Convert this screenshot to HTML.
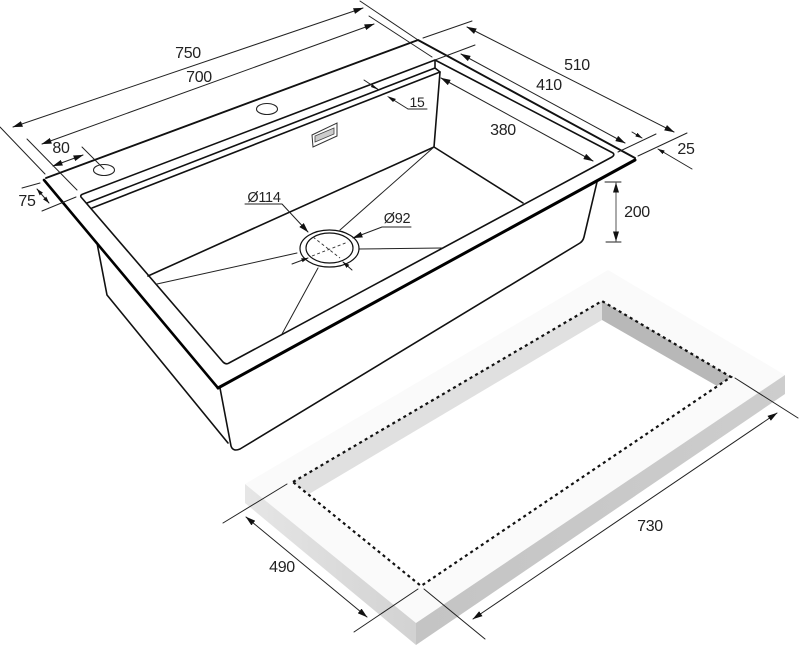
<!DOCTYPE html>
<html>
<head>
<meta charset="utf-8">
<style>
html,body{margin:0;padding:0;background:#fff;width:799px;height:646px;overflow:hidden}
svg{display:block;filter:blur(.35px)}
text{font-family:"Liberation Sans",sans-serif;font-size:16px;fill:#222;text-anchor:middle;letter-spacing:-.3px}
.t{fill:none;stroke:#222;stroke-width:1;stroke-linecap:round;stroke-linejoin:round}
.m{fill:none;stroke:#111;stroke-width:1.6;stroke-linecap:round;stroke-linejoin:round}
.b{fill:none;stroke:#000;stroke-width:2.6;stroke-linecap:round;stroke-linejoin:round}
.a{marker-start:url(#ar);marker-end:url(#ar)}
.e{marker-end:url(#ar)}
.s{marker-start:url(#sm);marker-end:url(#sm)}
.se{marker-end:url(#sm)}
.d{fill:none;stroke:#111;stroke-width:2.2;stroke-dasharray:3 3.4}
</style>
</head>
<body>
<svg width="799" height="646" viewBox="0 0 799 646" xmlns="http://www.w3.org/2000/svg">
<defs>
<marker id="ar" viewBox="0 0 10 6" refX="9.5" refY="3" markerWidth="10" markerHeight="6" markerUnits="userSpaceOnUse" orient="auto-start-reverse">
<path d="M0 0L10 3L0 6Z" fill="#111"/>
</marker>
<marker id="sm" viewBox="0 0 10 6" refX="9.5" refY="3" markerWidth="7" markerHeight="4.4" markerUnits="userSpaceOnUse" orient="auto-start-reverse">
<path d="M0 0L10 3L0 6Z" fill="#111"/>
</marker>
<linearGradient id="gl" x1="245" y1="0" x2="416" y2="0" gradientUnits="userSpaceOnUse">
<stop offset="0" stop-color="#e6e6e6"/><stop offset="1" stop-color="#d2d2d2"/>
</linearGradient>
<linearGradient id="gr" x1="416" y1="0" x2="785" y2="0" gradientUnits="userSpaceOnUse">
<stop offset="0" stop-color="#c4c4c4"/><stop offset="1" stop-color="#cdcdcd"/>
</linearGradient>
</defs>

<!-- counter slab -->
<polygon points="245,484 608,270 785,375 416,623" fill="#fafafa"/>
<polygon points="245,484 416,623 416,645 245,503" fill="url(#gl)"/>
<polygon points="416,623 785,375 785,394 416,645" fill="url(#gr)"/>
<polygon points="293,482 602,301 731,377 421,586" fill="#fff"/>
<polygon points="293,482 602,301 602,320 309,494" fill="#e0e0e0"/>
<polygon points="602,301 731,377 717,386 602,320" fill="#b8b8b8"/>
<polyline class="d" points="293,482 602,301 731,377 421,586 293,482"/>

<!-- sink body -->
<polyline class="m" points="97,243 107,295 228,443"/>
<path class="m" d="M220,388L231,446Q233,452 240,449L580,243Q583,241 584,237L597,182"/>

<!-- rim -->
<path class="m" style="stroke-width:1.9" d="M46,178L418,40L635,158"/>
<path class="b" d="M44,180L218,388"/>
<path class="b" style="stroke-width:3" d="M218,388L635,160"/>
<!-- opening -->
<path class="m" d="M83,194L435,60L613,153Q615,155 612,157L229,363Q226,365 223,362L81,197Q80,195 83,194Z"/>
<path class="m" d="M87,203L435,68L435,60M435,68L440,72"/>
<path class="m" d="M92,208L440,72L434,147"/>
<path class="m" d="M148,276L434,147L523,203"/>

<!-- radial drain lines -->
<path class="t" d="M434,147L340,230M157,284L297,253M358,249L442,248M318,268L282,334"/>

<!-- drain -->
<ellipse cx="329.5" cy="248.5" rx="29.5" ry="18.5" fill="#fff" stroke="#111" stroke-width="1.2"/>
<ellipse cx="329.5" cy="248" rx="23.5" ry="15" fill="#fff" stroke="#111" stroke-width="1.2"/>
<path d="M313,237L340,258M312,256L348,242" fill="none" stroke="#333" stroke-width=".9" stroke-dasharray="3 2.5"/>
<path class="t se" d="M292,264L308,258"/>
<path class="t se" d="M352,270L343,262"/>

<!-- holes and plate -->
<ellipse cx="104" cy="170" rx="10.5" ry="5.5" fill="#fff" stroke="#222" stroke-width="1.1"/>
<ellipse cx="267" cy="109" rx="10.5" ry="5.5" fill="#fff" stroke="#222" stroke-width="1.1"/>
<polygon points="312,135 337,123 337,136 313,147" fill="#fff" stroke="#333" stroke-width="1"/>
<polygon points="315,136 334,128 334,134 315,142" fill="#ccc" stroke="#444" stroke-width=".8"/>

<!-- dims left/top -->
<path class="t a" d="M13,127L363,8"/>
<path class="t a" d="M42,144L374,24"/>
<path class="t" d="M0,127L45,174M27,139L77,190M360,1L418,40M369,16L432,57"/>
<path class="t a" d="M53,166L83,155"/>
<path class="t" d="M82,147L104,169"/>
<path class="t" d="M22,188L40,183M42,211L76,197"/>
<path class="t s" d="M37,189L49,203"/>

<!-- dims right -->
<path class="t" d="M423,38L472,21M435,60L475,45M638,156L687,133M618,152L656,134"/>
<path class="t a" d="M467,27L674,132"/>
<path class="t a" d="M461,54L625,143"/>
<path class="t a" d="M441,78L593,161"/>
<path class="t se" d="M632,132L642,138"/>
<path class="t se" d="M692,169L658,149"/>
<path class="t" d="M364,80L379,90"/>
<path d="M372,84L379,90L371,87Z" fill="#111"/>
<path class="t" d="M408,109L392,99"/>
<path d="M387,96L396,99L393,102Z" fill="#111"/>
<path class="t" d="M408,109H427"/>
<path class="t" d="M605,182H621M606,242H621"/>
<path class="t a" style="stroke:#555" d="M616,183V241"/>

<!-- drain labels -->
<path class="t e" d="M245,204H282L308,232"/>
<path class="t e" d="M411,227H382L353,238"/>

<!-- counter dims -->
<path class="t" d="M735,378L798,418M424,589L485,639M287,484L223,523M418,589L354,632"/>
<path class="t a" d="M473,619L777,413"/>
<path class="t a" d="M246,517L367,617"/>

<text x="188" y="58">750</text>
<text x="199" y="82">700</text>
<text x="61" y="153">80</text>
<text x="27" y="206">75</text>
<text x="577" y="70">510</text>
<text x="549" y="90">410</text>
<text x="503" y="135">380</text>
<text x="417" y="107" style="font-size:14px">15</text>
<text x="686" y="154">25</text>
<text x="637" y="217">200</text>
<text x="264" y="202" style="font-size:14.5px">Ø114</text>
<text x="397" y="223" style="font-size:14.5px">Ø92</text>
<text x="650" y="531">730</text>
<text x="282" y="572">490</text>
</svg>
</body>
</html>
